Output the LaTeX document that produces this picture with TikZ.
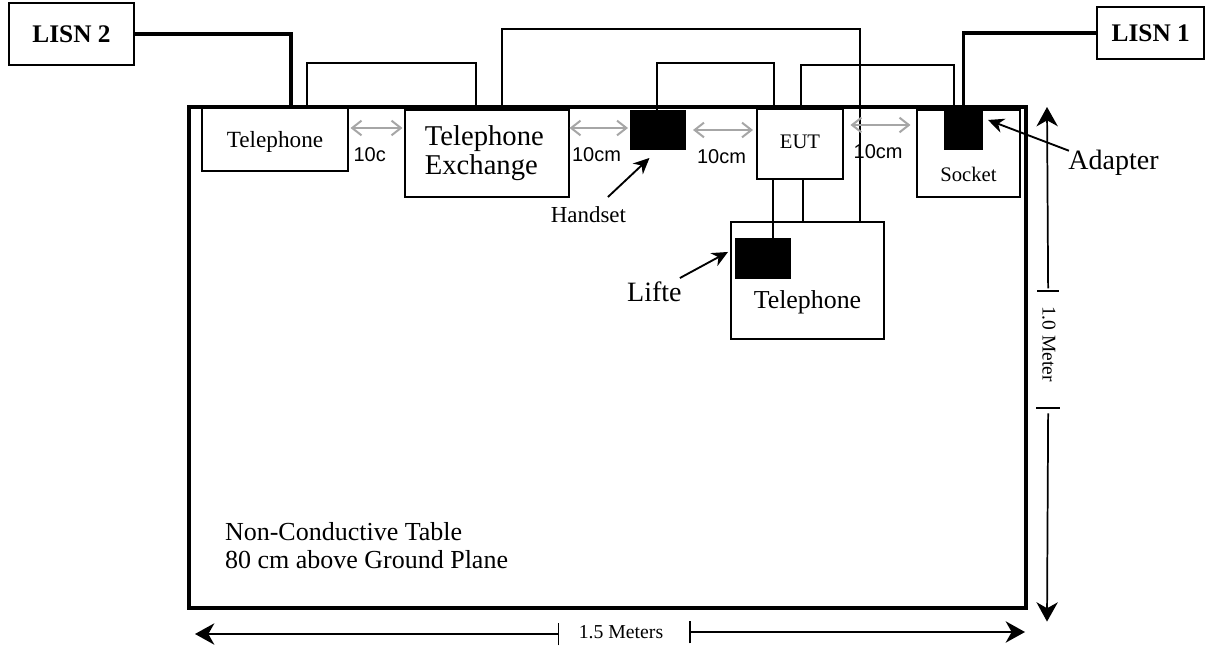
\documentclass[tikz,border=0pt]{standalone}
\usepackage{fontspec}
\usepackage{xcolor}
\setmainfont{Liberation Serif}
\newfontfamily\arialfont{Liberation Sans}
\usetikzlibrary{positioning,arrows.meta}
\definecolor{gapgray}{HTML}{A6A6A6}
\tikzset{
	unit/.style={draw, line width=1.5pt, inner sep=0pt, outer sep=0pt},
	solidunit/.style={fill=black, draw=none, inner sep=0pt, outer sep=0pt},
	caption/.style={inner sep=0pt, outer sep=0pt, align=left},
	gaplabel/.style={inner sep=0pt, outer sep=0pt, anchor=west, font=\arialfont\fontsize{15}{17}\selectfont},
	lead/.style={line width=1.5pt},
	mains/.style={line width=2.7pt},
	gaparrow/.style={draw=gapgray, line width=1.5pt, {Straight Barb[length=7pt,width=11pt]}-{Straight Barb[length=7pt,width=11pt]}},
	pointer/.style={line width=1.4pt, -{Stealth[length=12pt,width=11pt]}},
	dimline/.style={line width=1.3pt, -{Stealth[length=14.5pt,width=16pt,inset=4.5pt]}},
	dimtick/.style={line width=1.3pt}
}

\begin{document}
\begin{tikzpicture}[x=0.75pt, y=-0.75pt]
		\useasboundingbox (0,0) rectangle (1205,648);

		\node[draw, line width=3pt, inner sep=0pt, outer sep=0pt, minimum width=627.75pt, minimum height=375.75pt] (table) at (607.5,357.5) {};

		\node[unit, minimum width=109.5pt, minimum height=47.25pt, text depth=0pt, font=\fontsize{17.4}{20}\selectfont] (phoneA) [below right=0.75pt and 9.75pt of table.north west, anchor=north west] {Telephone};
		\node[unit, minimum width=123pt, minimum height=65.25pt] (exchange) [right=42.75pt of phoneA.north east, anchor=north west, yshift=-1.5pt] {};
		\node[solidunit, minimum width=42pt, minimum height=30pt] (handset) [right=45.75pt of exchange.north east, anchor=north west] {};
		\node[unit, minimum width=64.5pt, minimum height=52.5pt, text depth=3pt, font=\fontsize{15.5}{18}\selectfont] (eut) [right=53.25pt of handset.north east, anchor=north west, yshift=0.75pt] {EUT};
		\node[unit, minimum width=77.25pt, minimum height=65.25pt] (socket) [right=55.5pt of eut.north east, anchor=north west, yshift=-0.75pt] {};
		\node[solidunit, minimum width=29pt, minimum height=32.25pt] (adapter) [below left=0pt and 32.25pt of table.north east, anchor=north east] {};

		\node[unit, minimum width=114.75pt, minimum height=87.75pt] (phoneB) [below=32.25pt of eut.south, anchor=north, xshift=5.6pt] {};
		\node[solidunit, minimum width=42pt, minimum height=30.75pt] (lifted) [below right=12pt and 3pt of phoneB.north west, anchor=north west] {};

		\node[draw, line width=1.5pt, inner sep=0pt, outer sep=0pt, minimum width=93.75pt, minimum height=46.5pt, font=\bfseries\fontsize{19}{22}\selectfont] (lisnB) [above left=32.25pt and 51pt of phoneA.north west] {LISN 2};
		\node[draw, line width=1.5pt, inner sep=0pt, outer sep=0pt, minimum width=79.9pt, minimum height=39pt, font=\bfseries\fontsize{19}{22}\selectfont] (lisnA) [above right=38.25pt and 58.1pt of socket.north east] {LISN 1};

		% texts set apart from their boxes
		\node[caption, font=\fontsize{21.5}{21.75}\selectfont] (exchangetxt) [below=32pt of exchange.north, anchor=center, xshift=-2pt] {Telephone\\Exchange};
		\node[caption, font=\fontsize{19.4}{22}\selectfont] (phoneBtxt) [above=27.75pt of phoneB.south, anchor=center] {Telephone};
		\node[caption, font=\fontsize{15.5}{18}\selectfont] (sockettxt) [above=17.25pt of socket.south, anchor=center] {Socket};
		\node[caption, font=\fontsize{17.2}{19}\selectfont] (handsettxt) [below right=13.5pt and 14.6pt of exchange.south east, anchor=center] {Handset};
		\node[caption, font=\fontsize{21}{24}\selectfont] (adaptertxt) [below right=39.75pt and 70.1pt of socket.north east, anchor=center] {Adapter};
		\node[caption, font=\fontsize{21}{24}\selectfont] (liftedtxt) [below left=8.65pt and 57.4pt of phoneB.west, anchor=center] {Lifte};
		\node[caption, font=\fontsize{19.5}{21}\selectfont] (tabletxt) [above right=46.5pt and 27pt of table.south west, anchor=west] {Non-Conductive Table\\80 cm above Ground Plane};

		\node[gaplabel] (gapAtxt) [below right=35.25pt and 4.2pt of phoneA.north east, anchor=west] {10c};
		\node[gaplabel] (gapBtxt) [below right=33.75pt and 2.25pt of exchange.north east, anchor=west] {10cm};
		\node[gaplabel] (gapCtxt) [below right=35.25pt and 8.25pt of handset.north east, anchor=west] {10cm};
		\node[gaplabel] (gapDtxt) [below right=32.25pt and 8pt of eut.north east, anchor=west] {10cm};

		% mains leads
		\draw[mains] (lisnB.east) -| ([xshift=12pt]phoneA.north);
		\draw[mains] (lisnA.west) -| (adapter.north);

		% signal leads
		\draw[lead] ([xshift=24pt]phoneA.north) -- ++(0,-45) -| ([xshift=-8.25pt]exchange.north);
		\draw[lead] ([xshift=11.25pt]exchange.north) -- ++(0,-81) -| ([xshift=39.4pt]phoneB.north);
		\draw[lead] ([xshift=-1pt]handset.north) -- ++(0,-47) -| ([xshift=-19.5pt]eut.north);
		\draw[lead] ([xshift=0.4pt]eut.north) -- ++(0,-44) -| ([xshift=-7.5pt]adapter.north);
		\draw[lead] ([xshift=-20.5pt]eut.south) -- ([xshift=-20.5pt]eut.south |- lifted.north);
		\draw[lead] ([xshift=2.25pt]eut.south) -- ([xshift=2.25pt]eut.south |- phoneB.north);

		% spacings
		\draw[gaparrow] ([xshift=1.9pt,yshift=-15pt]phoneA.north east) -- ([xshift=-1.9pt,yshift=-13.5pt]exchange.north west);
		\draw[gaparrow] ([xshift=0.4pt,yshift=-13.5pt]exchange.north east) -- ([xshift=-1.5pt,yshift=-13.5pt]handset.north west);
		\draw[gaparrow] ([xshift=5.25pt,yshift=-15pt]handset.north east) -- ([xshift=-3pt,yshift=-15.75pt]eut.north west);
		\draw[gaparrow] ([xshift=5.6pt,yshift=-12pt]eut.north east) -- ([xshift=-4.9pt,yshift=-11.25pt]socket.north west);

		% pointers
		\draw[pointer] ([xshift=14.6pt,yshift=13.5pt]handsettxt.center) -- ([xshift=-6.4pt,yshift=-6pt]handset.south);
		\draw[pointer] ([xshift=-33.4pt,yshift=9.2pt]adaptertxt.center) -- ([xshift=3.75pt,yshift=6.4pt]adapter.east);
		\draw[pointer] ([xshift=19.1pt,yshift=10.5pt]liftedtxt.center) -- ([xshift=-2.25pt,yshift=21.4pt]phoneB.west);

		% table dimensions
		\node[caption, rotate=-90, font=\fontsize{14.6}{16}\selectfont] (dimV) [above right=10.1pt and 17.2pt of table.east, anchor=center] {1.0 Meter};
		\node[caption, font=\fontsize{14.8}{16}\selectfont] (dimH) [below right=18pt and 10.1pt of table.south, anchor=center] {1.5 Meters};

		\coordinate (vtop) at ([xshift=15.75pt]table.north east);
		\coordinate (vbot) at ([xshift=15.75pt,yshift=-10.2pt]table.south east);
		\coordinate (hleft) at ([xshift=4.5pt,yshift=-19.5pt]table.south west);
		\coordinate (hright) at ([xshift=-0.75pt,yshift=-18pt]table.south east);
		\coordinate (tickU) at ([xshift=-0.6pt,yshift=39.75pt]dimV.center);
		\coordinate (tickD) at ([xshift=-0.6pt,yshift=-48pt]dimV.center);
		\coordinate (tickL) at ([xshift=-46.9pt,yshift=-1.5pt]dimH.center);
		\coordinate (tickR) at ([xshift=51.5pt]dimH.center);

		\draw[dimtick] ([xshift=-8pt]tickU) -- ([xshift=8pt]tickU);
		\draw[dimtick] ([xshift=-9pt]tickD) -- ([xshift=9pt]tickD);
		\draw[dimtick] ([yshift=-8.5pt]tickL) -- ([yshift=8.5pt]tickL);
		\draw[dimtick] ([yshift=-8.5pt]tickR) -- ([yshift=8.5pt]tickR);

		\draw[dimline] ([yshift=2pt]tickU) -- (vtop);
		\draw[dimline] ([yshift=-4pt]tickD) -- (vbot);
		\draw[dimline] (tickL) -- (hleft);
		\draw[dimline] (tickR) -- (hright);
	\end{tikzpicture}
\end{document}
